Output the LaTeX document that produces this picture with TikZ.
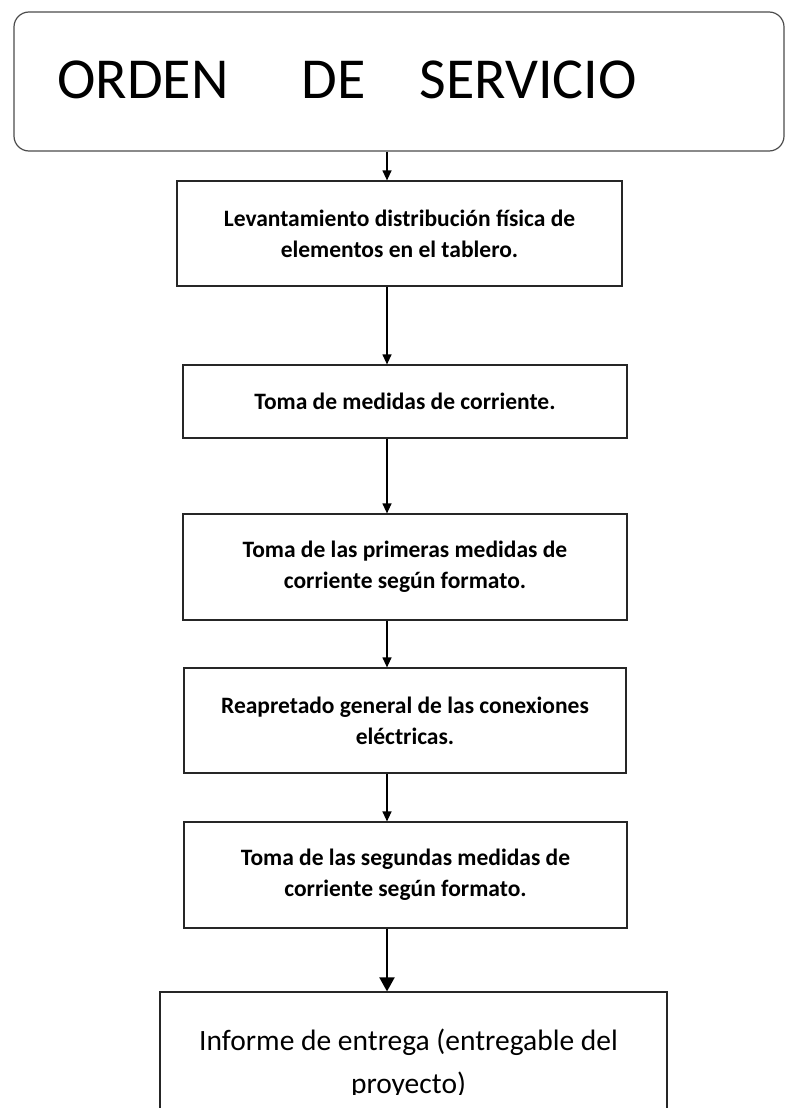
\documentclass[tikz,border=0pt]{standalone}
\usepackage{fontspec}
\setmainfont{Carlito}
\usetikzlibrary{arrows.meta}
\begin{document}
\begin{tikzpicture}[x=1pt,y=-1pt,
  stepbox/.style={draw=black!85, line width=1.2pt, rectangle, align=center, inner sep=0pt,
    font=\fontsize{23.5}{31}\selectfont\bfseries},
  endbox/.style={draw=black!85, line width=1.2pt, rectangle, inner sep=0pt},
  endtext/.style={align=center, inner sep=0pt, font=\fontsize{29.5}{43}\selectfont},
  arr/.style={draw=black, line width=1.2pt, -{Triangle[width=9pt,length=10pt]}},
  bigarr/.style={draw=black, line width=2pt, -{Triangle[width=15pt,length=14pt]}}]
\useasboundingbox (0,0) rectangle (786,1108);
\clip (0,0) rectangle (786,1108);
\coordinate (ax) at (387,0);
\node[draw=black!70, line width=1.2pt, rounded corners=15pt, minimum width=770pt,
  minimum height=139pt, inner sep=0pt] (top) at (399,81.5) {};
\node[anchor=base west, font=\fontsize{58}{60}\selectfont, inner sep=0pt] (title) at (57,98)
  {ORDEN\hspace{73pt}DE\hspace{54pt}SERVICIO};
\node[stepbox, minimum width=445pt, minimum height=105pt] (b1) at (399.5,233.5)
  {Levantamiento distribución física de\\elementos en el tablero.};
\node[stepbox, minimum width=444pt, minimum height=73pt] (b2) at (405,401.5)
  {Toma de medidas de corriente.};
\node[stepbox, minimum width=444pt, minimum height=106pt] (b3) at (405,567)
  {Toma de las primeras medidas de\\corriente según formato.};
\node[stepbox, minimum width=442pt, minimum height=105pt] (b4) at (405,720.5)
  {Reapretado general de las conexiones\\eléctricas.};
\node[stepbox, minimum width=443pt, minimum height=106pt] (b5) at (405.5,875)
  {Toma de las segundas medidas de\\corriente según formato.};
\node[endbox, minimum width=507pt, minimum height=144pt] (b6) at (413.5,1064) {};
\begin{scope}
  \clip (165,995) rectangle (662,1094);
  \node[endtext, anchor=base] (b6t) at (408.5,1093)
    {Informe de entrega (entregable del\\proyecto)};
\end{scope}
\draw[arr] (top.south -| ax) -- (b1.north -| ax);
\draw[arr] (b1.south -| ax) -- (b2.north -| ax);
\draw[arr] (b2.south -| ax) -- (b3.north -| ax);
\draw[arr] (b3.south -| ax) -- (b4.north -| ax);
\draw[arr] (b4.south -| ax) -- (b5.north -| ax);
\draw[bigarr] (b5.south -| ax) -- (b6.north -| ax);
\end{tikzpicture}
\end{document}
